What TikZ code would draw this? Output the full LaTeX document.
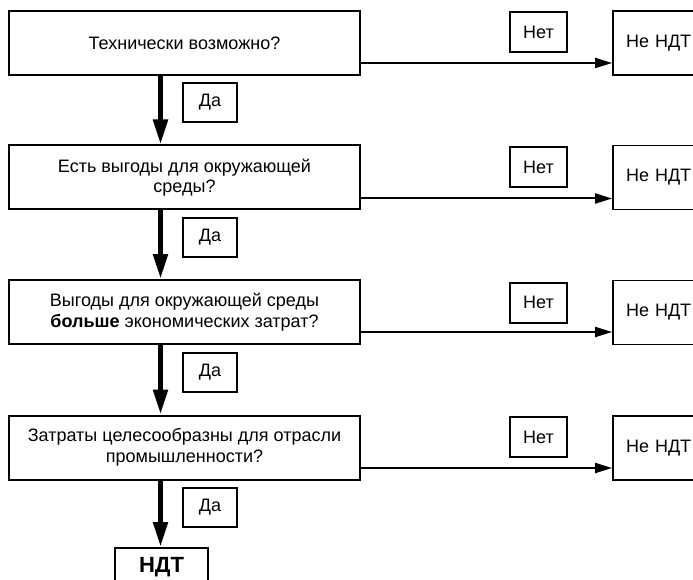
\documentclass[tikz,border=0pt]{standalone}
\usepackage{fontspec}
\setmainfont{Liberation Sans}
\usetikzlibrary{arrows.meta}
\begin{document}
\begin{tikzpicture}[x=1pt,y=-1pt,
  every node/.style={font=\fontsize{18}{20.5}\selectfont},
  mainbox/.style={draw,line width=2pt,minimum width=351pt,minimum height=64pt,align=center,inner sep=0pt},
  tagbox/.style={draw,line width=2pt,minimum height=39pt,inner sep=0pt},
  endbox/.style={draw,line width=1.8pt,minimum width=100pt,minimum height=64pt,anchor=west,inner sep=0pt,text width=88pt,align=left,xshift=-0.9pt},
  yesarrow/.style={line width=5pt,-{Triangle[width=14pt,length=25pt]}},
  noarrow/.style={line width=2pt,-{Triangle[width=10pt,length=17pt]}}
]
\useasboundingbox (0,0) rectangle (693,580);
\clip (0,0) rectangle (693,580);
\fill[white] (0,0) rectangle (693,580);
% main boxes
\node[mainbox] (b1) at (184.5,43) {Технически возможно?};
\node[mainbox] (b2) at (184.5,177.5) {Есть выгоды для окружающей\\среды?};
\node[mainbox] (b3) at (184.5,312) {Выгоды для окружающей среды\\\textbf{больше} экономических затрат?};
\node[mainbox] (b4) at (184.5,447.5) {Затраты целесообразны для отрасли\\промышленности?};
% yes labels
\node[tagbox,minimum width=54pt] (y1) at (210,102.5) {Да};
\node[tagbox,minimum width=54pt] (y2) at (210,237.5) {Да};
\node[tagbox,minimum width=54pt] (y3) at (210,372.5) {Да};
\node[tagbox,minimum width=54pt] (y4) at (210,507.5) {Да};
% no labels
\node[tagbox,minimum width=57pt,minimum height=40pt] (n1) at (538.5,32) {Нет};
\node[tagbox,minimum width=57pt,minimum height=40pt] (n2) at (538.5,167) {Нет};
\node[tagbox,minimum width=57pt,minimum height=40pt] (n3) at (538.5,302.5) {Нет};
\node[tagbox,minimum width=57pt,minimum height=40pt] (n4) at (538.5,437) {Нет};
% not-BAT boxes
\node[endbox] (e1) at (613,43) {\hspace*{7pt}Не НДТ};
\node[endbox] (e2) at (613,177.5) {\hspace*{7pt}Не НДТ};
\node[endbox] (e3) at (613,312.5) {\hspace*{7pt}Не НДТ};
\node[endbox] (e4) at (613,448) {\hspace*{7pt}Не НДТ};
% final box
\node[draw,line width=2pt,anchor=north,minimum width=93pt,inner ysep=9pt,text depth=30pt,font=\fontsize{22}{24}\selectfont\bfseries] (f) at (161.5,547) {НДТ};
% arrow column
\coordinate (ax) at (160.5,0);
\draw[yesarrow] (b1.south -| ax) -- (b2.north -| ax);
\draw[yesarrow] (b2.south -| ax) -- (b3.north -| ax);
\draw[yesarrow] (b3.south -| ax) -- (b4.north -| ax);
\draw[yesarrow] (b4.south -| ax) -- (f.north -| ax);
% no arrows
\draw[noarrow] ([yshift=-20pt]b1.east) -- ([yshift=-20pt]b1.east -| e1.west);
\draw[noarrow] ([yshift=-21pt]b2.east) -- ([yshift=-21pt]b2.east -| e2.west);
\draw[noarrow] ([yshift=-20pt]b3.east) -- ([yshift=-20pt]b3.east -| e3.west);
\draw[noarrow] ([yshift=-20.5pt]b4.east) -- ([yshift=-20.5pt]b4.east -| e4.west);
\end{tikzpicture}
\end{document}
